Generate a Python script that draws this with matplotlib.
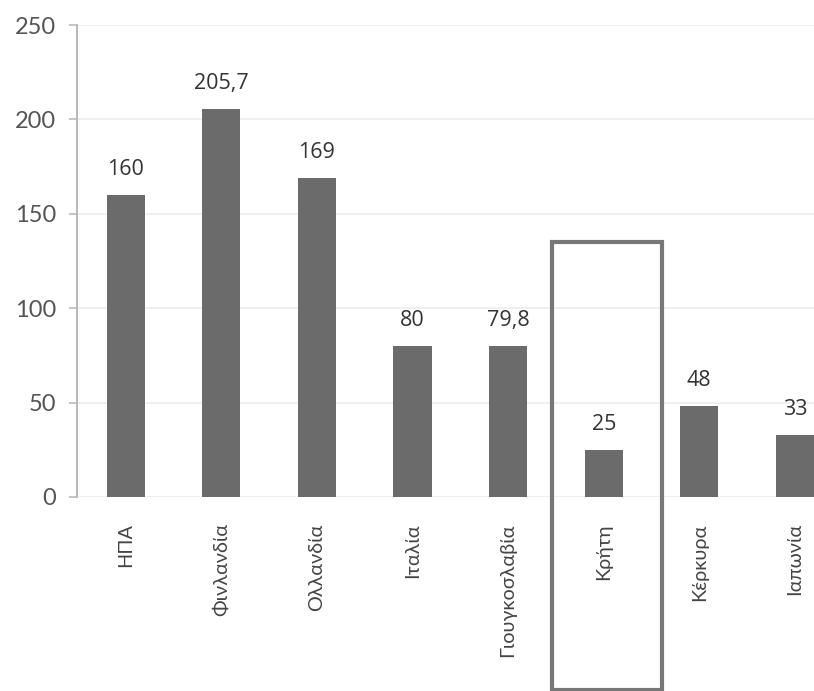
import matplotlib.pyplot as plt
from matplotlib.patches import Rectangle
import matplotlib.transforms as mtransforms

# Data
countries = ["ΗΠΑ", "Φινλανδία", "Ολλανδία", "Ιταλία", "Γιουγκοσλαβία",
             "Κρήτη", "Κέρκυρα", "Ιαπωνία"]
values = [160, 205.7, 169, 80, 79.8, 25, 48, 33]
value_labels = ["160", "205,7", "169", "80", "79,8", "25", "48", "33"]
highlight = "Κρήτη"

fig = plt.figure(figsize=(8.14, 6.91), dpi=100)
ax = fig.add_axes([0.0946, 0.2808, 0.9054, 0.683])

x = range(len(countries))
ax.bar(x, values, width=0.4, color="#6b6b6b", zorder=3)

ax.set_ylim(0, 250)
ax.set_xlim(-0.51, 7.2)
ax.set_yticks(range(0, 251, 50))
ax.grid(axis="y", color="#ececec", linewidth=1.2, zorder=0)

for s in ["top", "right", "bottom"]:
    ax.spines[s].set_visible(False)
ax.spines["left"].set_color("#bbbbbb")
ax.spines["left"].set_linewidth(1.5)

ax.tick_params(axis="y", colors="#bbbbbb", length=6, width=1.2,
               labelsize=17, labelcolor="#555555", pad=9)
ax.tick_params(axis="x", length=0, pad=19)
ax.set_xticks(list(x))
ax.set_xticklabels(countries, rotation=90, fontsize=14.3, color="#444444",
                   va="top")
for lbl in ax.get_yticklabels() + ax.get_xticklabels():
    lbl.set_family(["Lato", "DejaVu Sans"])

# Value labels
for i, v in enumerate(values):
    ax.text(i, v + 8, value_labels[i], ha="center", va="bottom",
            fontsize=15.5, color="#333333", family=["Open Sans", "DejaVu Sans"])

# Highlight box around Κρήτη
k = countries.index(highlight)
trans = mtransforms.blended_transform_factory(ax.transData, fig.transFigure)
box = Rectangle((k - 0.54, 0.002), 1.152, 0.648, transform=trans,
                fill=False, edgecolor="#777777", linewidth=3, clip_on=False,
                zorder=5)
fig.add_artist(box)

fig.savefig("out.png", dpi=100)
